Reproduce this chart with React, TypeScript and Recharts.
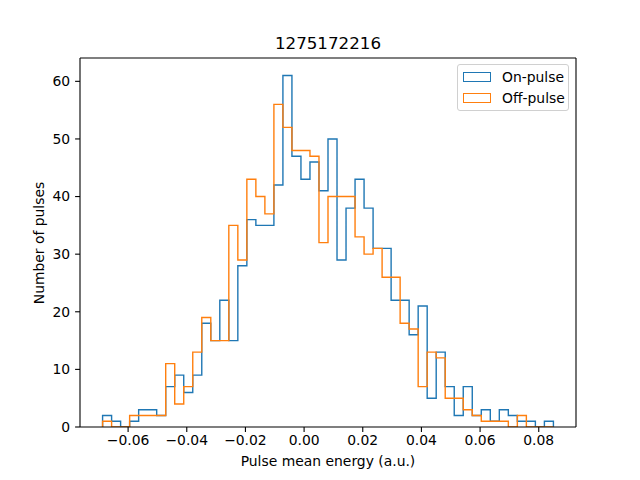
import React from "react";
import { LineChart, Line, XAxis, YAxis, ReferenceLine } from "recharts";

// histogram bins (shared by both series)
const binStart = -0.0687;
const binWidth = 0.003074;

const onPulse = [
  2, 1, 0, 1, 3, 3, 2, 7, 9, 6, 9, 18, 15, 22, 15, 28, 36, 35, 35, 42, 61, 47, 43, 46, 41,
  50, 29, 38, 43, 38, 31, 31, 22, 22, 16, 21, 5, 13, 7, 2, 7, 2, 3, 1, 3, 2, 1, 1, 0, 1,
];
const offPulse = [
  1, 0, 0, 2, 2, 2, 2, 11, 4, 7, 13, 19, 15, 15, 35, 29, 43, 40, 37, 56, 52, 48, 48, 47, 32,
  40, 40, 40, 33, 30, 31, 26, 26, 18, 17, 7, 13, 12, 5, 5, 3, 2, 1, 1, 1, 0, 2, 0, 0, 0,
];

const xTicks = [-0.06, -0.04, -0.02, 0, 0.02, 0.04, 0.06, 0.08];
const yTicks = [0, 10, 20, 30, 40, 50, 60];

const X_MIN = -0.0764;
const X_MAX = 0.0927;
const Y_MAX = 64.05;

const FONT = "'DejaVu Sans', sans-serif";
const BLUE = "#1f77b4";
const ORANGE = "#ff7f0e";

function edge(i: number) {
  return binStart + i * binWidth;
}

// outline of a matplotlib histtype="step" histogram
function stepPoints(counts: number[]) {
  const n = counts.length;
  const pts = [{ x: edge(0), y: 0 }];
  counts.forEach((c, i) => pts.push({ x: edge(i), y: c }));
  pts.push({ x: edge(n), y: counts[n - 1] });
  pts.push({ x: edge(n), y: 0 });
  return pts;
}

const fmt = (v: number) => v.toFixed(2).replace("-", "\u2212");

const tickStyle = { fill: "#000", fontSize: 13.9, fontFamily: FONT };

export default function App() {
  return (
    <div style={{ position: "absolute", left: 0, top: 0, width: 640, height: 480, background: "#fff", fontFamily: FONT }}>
      <LineChart width={640} height={480} margin={{ top: 58, right: 64, bottom: 0, left: 0 }}>
        <XAxis
          dataKey="x"
          type="number"
          domain={[X_MIN, X_MAX]}
          ticks={xTicks}
          tickFormatter={fmt}
          allowDataOverflow
          height={53}
          tick={tickStyle}
          tickSize={4.9}
          tickMargin={3.5}
          axisLine={{ stroke: "#000", strokeWidth: 1.1 }}
          tickLine={{ stroke: "#000", strokeWidth: 1.1 }}
        />
        <YAxis
          type="number"
          domain={[0, Y_MAX]}
          ticks={yTicks}
          allowDataOverflow
          width={80}
          tick={tickStyle}
          tickSize={4.9}
          tickMargin={4.9}
          axisLine={{ stroke: "#000", strokeWidth: 1.1 }}
          tickLine={{ stroke: "#000", strokeWidth: 1.1 }}
        />
        <ReferenceLine y={Y_MAX} stroke="#000" strokeWidth={1.1} />
        <ReferenceLine x={X_MAX} stroke="#000" strokeWidth={1.1} />
        <Line
          data={stepPoints(onPulse)}
          dataKey="y"
          type="stepAfter"
          stroke={BLUE}
          strokeWidth={1.4}
          dot={false}
          activeDot={false}
          isAnimationActive={false}
        />
        <Line
          data={stepPoints(offPulse)}
          dataKey="y"
          type="stepAfter"
          stroke={ORANGE}
          strokeWidth={1.4}
          dot={false}
          activeDot={false}
          isAnimationActive={false}
        />
      </LineChart>

      <div style={{ position: "absolute", left: 0, width: 656, top: 33, textAlign: "center", fontSize: 16.7 }}>
        1275172216
      </div>
      <div style={{ position: "absolute", left: 80, width: 496, top: 453, textAlign: "center", fontSize: 13.9 }}>
        Pulse mean energy (a.u.)
      </div>
      <div
        style={{
          position: "absolute",
          left: 39,
          top: 243,
          fontSize: 13.9,
          whiteSpace: "nowrap",
          transform: "translate(-50%, -50%) rotate(-90deg)",
        }}
      >
        Number of pulses
      </div>

      <div
        style={{
          position: "absolute",
          left: 457,
          top: 64,
          width: 110,
          height: 45,
          border: "1px solid #d0d0d0",
          borderRadius: 3,
          background: "rgba(255,255,255,0.8)",
          fontSize: 13.9,
        }}
      >
        {[
          { label: "On-pulse", color: BLUE },
          { label: "Off-pulse", color: ORANGE },
        ].map((item, i) => (
          <div key={item.label} style={{ position: "absolute", left: 5, top: 7 + i * 21, display: "flex", alignItems: "center" }}>
            <div style={{ width: 26, height: 8, border: `1.4px solid ${item.color}` }} />
            <span style={{ marginLeft: 11, lineHeight: "10px" }}>{item.label}</span>
          </div>
        ))}
      </div>
    </div>
  );
}
